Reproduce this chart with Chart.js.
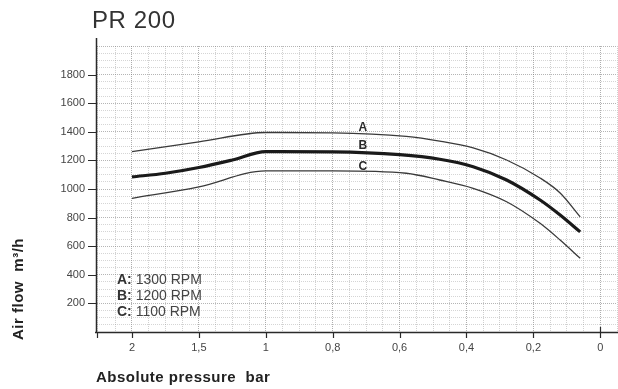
<!DOCTYPE html>
<html>
<head>
<meta charset="utf-8">
<script src="https://cdn.jsdelivr.net/npm/chart.js@4/dist/chart.umd.min.js"></script>
<style>
html,body{margin:0;padding:0;background:#fff;}
#wrap{width:618px;height:389px;position:relative;}
</style>
</head>
<body>
<div id="wrap"><canvas id="c" width="618" height="389"></canvas></div>
<script>
// ---- data ----
const chartTitle = 'PR 200';
const xAxisTitle = 'Absolute pressure  bar';
const yAxisTitle = 'Air flow  m³/h';
const xTickPressures = [2, 1.5, 1, 0.8, 0.6, 0.4, 0.2, 0];
const xTickLabels = ['2', '1,5', '1', '0,8', '0,6', '0,4', '0,2', '0'];
const yTickValues = [200, 400, 600, 800, 1000, 1200, 1400, 1600, 1800];

const pressureA = [2, 1.5, 1, 0.8, 0.58, 0.48, 0.38, 0.28, 0.18, 0.12, 0.06];
const flowA     = [1262, 1330, 1395, 1393, 1368, 1335, 1287, 1203, 1077, 972, 805];
const pressureB = [2, 1.75, 1.5, 1.25, 1, 0.8, 0.6, 0.48, 0.38, 0.28, 0.18, 0.12, 0.06];
const flowB     = [1085, 1110, 1150, 1203, 1262, 1260, 1240, 1208, 1156, 1063, 923, 818, 700];
const pressureC = [2, 1.5, 1, 0.8, 0.58, 0.48, 0.38, 0.28, 0.18, 0.12, 0.06];
const flowC     = [935, 1015, 1127, 1127, 1110, 1063, 1005, 911, 760, 643, 515];

const curveNames = ['A', 'B', 'C'];
const curveLabelPressure = 0.71;
const curveLabelFlow = [1405, 1280, 1133];
const legendKeys = ['A:', 'B:', 'C:'];
const legendTexts = [' 1300 RPM', ' 1200 RPM', ' 1100 RPM'];

// the pressure axis is piecewise: 0.5 bar per division above 1 bar, 0.2 bar below
function toIdx(p) { return p >= 1 ? (2 - p) / 0.5 : 2 + (1 - p) / 0.2; }
function pts(ps, vs) { return ps.map((p, i) => ({ x: toIdx(p), y: vs[i] })); }

const FONT = '"Liberation Sans", Arial, sans-serif';
const majorIdx = xTickPressures.map(toIdx);

const overlay = {
  id: 'overlay',
  afterDraw(chart) {
    const ctx = chart.ctx, xs = chart.scales.x, ys = chart.scales.y;
    const ca = chart.chartArea;
    ctx.save();
    // axis lines
    ctx.strokeStyle = '#2a2a2a';
    ctx.lineWidth = 1.5;
    ctx.beginPath();
    ctx.moveTo(96.5, 38); ctx.lineTo(96.5, ca.bottom + 0.5);
    ctx.moveTo(95, ca.bottom + 0.5); ctx.lineTo(618, ca.bottom + 0.5);
    ctx.stroke();
    // tick marks
    ctx.lineWidth = 1.2;
    ctx.beginPath();
    yTickValues.forEach(v => {
      const y = Math.round(ys.getPixelForValue(v)) + 0.5;
      ctx.moveTo(88, y); ctx.lineTo(96, y);
    });
    majorIdx.concat([xs.min]).forEach(i => {
      const x = Math.round(xs.getPixelForValue(i)) + 0.5;
      ctx.moveTo(x, ca.bottom); ctx.lineTo(x, ca.bottom + 6);
    });
    const x0 = Math.round(xs.getPixelForValue(toIdx(0))) + 0.5;
    ctx.moveTo(x0, ca.bottom - 5); ctx.lineTo(x0, ca.bottom);
    ctx.stroke();

    // chart title
    ctx.fillStyle = '#333';
    ctx.font = '24px ' + FONT;
    ctx.letterSpacing = '0.6px';
    ctx.textAlign = 'left';
    ctx.textBaseline = 'alphabetic';
    ctx.fillText(chartTitle, 92, 28);

    // x title
    ctx.fillStyle = '#222';
    ctx.font = 'bold 15px ' + FONT;
    ctx.letterSpacing = '0.5px';
    ctx.fillText(xAxisTitle, 96, 382);

    // y title (rotated)
    ctx.save();
    ctx.translate(23, 340);
    ctx.rotate(-Math.PI / 2);
    ctx.font = 'bold 15px ' + FONT;
    ctx.fillText(yAxisTitle, 0, 0);
    ctx.restore();
    ctx.letterSpacing = '0px';

    // curve labels
    ctx.font = 'bold 12px ' + FONT;
    ctx.textAlign = 'center';
    ctx.fillStyle = '#2a2a2a';
    curveNames.forEach((n, i) => {
      ctx.fillText(n, xs.getPixelForValue(toIdx(curveLabelPressure)), ys.getPixelForValue(curveLabelFlow[i]));
    });

    // legend text
    ctx.textAlign = 'left';
    const baselines = [284, 300, 316];
    legendKeys.forEach((k, i) => {
      ctx.font = 'bold 14px ' + FONT;
      ctx.fillStyle = '#333';
      ctx.fillText(k, 117, baselines[i]);
      const w = ctx.measureText(k).width;
      ctx.font = '14px ' + FONT;
      ctx.fillStyle = '#444';
      ctx.fillText(legendTexts[i], 117 + w, baselines[i]);
    });
    ctx.restore();
  }
};

new Chart(document.getElementById('c'), {
  type: 'line',
  data: {
    datasets: [
      { label: 'A', data: pts(pressureA, flowA), borderColor: '#3a3a3a', borderWidth: 1.3 },
      { label: 'B', data: pts(pressureB, flowB), borderColor: '#1a1a1a', borderWidth: 3.2 },
      { label: 'C', data: pts(pressureC, flowC), borderColor: '#3a3a3a', borderWidth: 1.3 }
    ]
  },
  options: {
    responsive: false,
    animation: false,
    devicePixelRatio: 1,
    layout: { padding: { left: 0, top: 46, right: 1, bottom: 0 } },
    elements: {
      point: { radius: 0 },
      line: { cubicInterpolationMode: 'monotone', fill: false }
    },
    plugins: { legend: { display: false }, tooltip: { enabled: false }, title: { display: false } },
    scales: {
      x: {
        type: 'linear',
        min: -0.523,
        max: 7.25,
        afterFit(s) { s.height = 57; s.paddingLeft = 0; s.paddingRight = 0; },
        ticks: {
          stepSize: 0.25,
          autoSkip: false,
          maxRotation: 0,
          padding: 9,
          color: '#444',
          font: { family: FONT, size: 11 },
          callback(v) {
            const k = majorIdx.findIndex(m => Math.abs(m - v) < 1e-6);
            return k >= 0 ? xTickLabels[k] : '';
          }
        },
        grid: {
          drawTicks: false,
          color(c) {
            const v = c.tick ? c.tick.value : 0;
            return Math.abs(v - Math.round(v)) < 1e-6 ? 'rgba(120,120,120,0.6)' : 'rgba(150,150,150,0.45)';
          },
          lineWidth: 1
        },
        border: { display: false, dash: [1, 1] }
      },
      y: {
        type: 'linear',
        min: 0,
        max: 2000,
        afterFit(s) { s.width = 97; s.paddingTop = 0; s.paddingBottom = 0; },
        ticks: {
          stepSize: 50,
          autoSkip: false,
          padding: 12,
          color: '#444',
          font: { family: FONT, size: 11 },
          callback(v) { return yTickValues.includes(v) ? String(v) : ''; }
        },
        grid: {
          drawTicks: false,
          color(c) {
            const v = c.tick ? c.tick.value : 0;
            return v % 200 === 0 ? 'rgba(120,120,120,0.55)' : 'rgba(150,150,150,0.4)';
          },
          lineWidth: 1
        },
        border: { display: false, dash: [1, 1] }
      }
    }
  },
  plugins: [overlay]
});
</script>
</body>
</html>
